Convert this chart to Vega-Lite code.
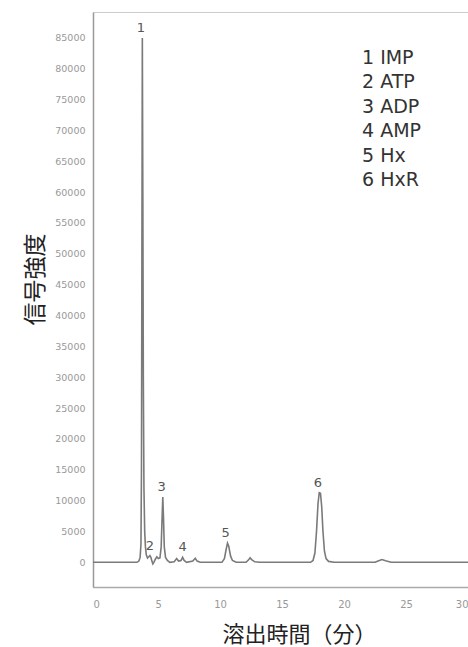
{
  "$schema": "https://vega.github.io/schema/vega-lite/v6.json",
  "autosize": {"type": "none"},
  "width": 375,
  "height": 575,
  "padding": {"left": 93, "top": 12, "right": 0, "bottom": 60},
  "background": "white",
  "config": {
    "view": {"stroke": "#cccccc", "strokeWidth": 1},
    "font": "DejaVu Sans"
  },
  "datasets": {
    "trace": [
      {"time": -0.25, "signal": 0}, {"time": 3.3, "signal": 0}, {"time": 3.45, "signal": 200},
      {"time": 3.55, "signal": 800}, {"time": 3.62, "signal": 3000}, {"time": 3.66, "signal": 15000},
      {"time": 3.7, "signal": 55000}, {"time": 3.73, "signal": 85000}, {"time": 3.77, "signal": 60000},
      {"time": 3.81, "signal": 30000}, {"time": 3.86, "signal": 12000}, {"time": 3.92, "signal": 5000},
      {"time": 3.98, "signal": 2500}, {"time": 4.05, "signal": 1200}, {"time": 4.15, "signal": 700},
      {"time": 4.25, "signal": 900}, {"time": 4.34, "signal": 1100}, {"time": 4.42, "signal": 800},
      {"time": 4.5, "signal": 200}, {"time": 4.58, "signal": -250}, {"time": 4.66, "signal": 0},
      {"time": 4.78, "signal": 500}, {"time": 4.9, "signal": 900}, {"time": 5.02, "signal": 600},
      {"time": 5.15, "signal": 700}, {"time": 5.25, "signal": 2500}, {"time": 5.32, "signal": 7000},
      {"time": 5.38, "signal": 10600}, {"time": 5.44, "signal": 7000}, {"time": 5.5, "signal": 2500},
      {"time": 5.6, "signal": 800}, {"time": 5.75, "signal": 300}, {"time": 5.95, "signal": 0},
      {"time": 6.3, "signal": 100}, {"time": 6.5, "signal": 600}, {"time": 6.65, "signal": 200},
      {"time": 6.85, "signal": 300}, {"time": 6.98, "signal": 800}, {"time": 7.1, "signal": 300},
      {"time": 7.3, "signal": 0}, {"time": 7.8, "signal": 200}, {"time": 8.0, "signal": 650},
      {"time": 8.15, "signal": 200}, {"time": 8.4, "signal": 0}, {"time": 10.15, "signal": 0},
      {"time": 10.35, "signal": 600}, {"time": 10.5, "signal": 2200}, {"time": 10.6, "signal": 3100},
      {"time": 10.7, "signal": 2600}, {"time": 10.85, "signal": 1000}, {"time": 11.0, "signal": 300},
      {"time": 11.3, "signal": 0}, {"time": 12.1, "signal": 0}, {"time": 12.3, "signal": 400},
      {"time": 12.42, "signal": 750}, {"time": 12.55, "signal": 450}, {"time": 12.8, "signal": 80},
      {"time": 13.2, "signal": 0}, {"time": 17.3, "signal": 0}, {"time": 17.5, "signal": 300},
      {"time": 17.65, "signal": 1500}, {"time": 17.78, "signal": 5000}, {"time": 17.9, "signal": 9500},
      {"time": 18.0, "signal": 11300}, {"time": 18.1, "signal": 11200}, {"time": 18.2, "signal": 9000},
      {"time": 18.3, "signal": 5000}, {"time": 18.42, "signal": 1800}, {"time": 18.55, "signal": 600},
      {"time": 18.75, "signal": 150}, {"time": 19.2, "signal": 0}, {"time": 22.5, "signal": 0},
      {"time": 22.8, "signal": 250}, {"time": 23.06, "signal": 450}, {"time": 23.35, "signal": 250},
      {"time": 23.8, "signal": 0}, {"time": 30, "signal": 0}
    ],
    "peaks": [
      {"peak": "1", "name": "1 IMP", "time": 3.62, "signal": 85000},
      {"peak": "2", "name": "2 ATP", "time": 4.34, "signal": 1100},
      {"peak": "3", "name": "3 ADP", "time": 5.28, "signal": 10600},
      {"peak": "4", "name": "4 AMP", "time": 6.98, "signal": 800},
      {"peak": "5", "name": "5 Hx", "time": 10.45, "signal": 3100},
      {"peak": "6", "name": "6 HxR", "time": 17.9, "signal": 11300}
    ]
  },
  "encoding": {
    "x": {
      "field": "time", "type": "quantitative",
      "scale": {"domain": [-0.25, 30], "nice": false, "zero": false},
      "axis": {
        "values": [0, 5, 10, 15, 20, 25, 30],
        "grid": false, "ticks": false, "labelPadding": 12, "labelOverlap": false,
        "labelFontSize": 10, "labelColor": "#999999", "labelFont": "DejaVu Sans",
        "domainColor": "#aaaaaa", "domainWidth": 1.5,
        "title": "溶出時間（分）", "titleFont": "Noto Sans CJK JP", "titleFontSize": 22,
        "titleFontWeight": "normal", "titleColor": "#222222",
        "titleX": 206, "titleY": 47, "titleBaseline": "middle", "titleAlign": "center"
      }
    },
    "y": {
      "field": "signal", "type": "quantitative",
      "scale": {"domain": [-4000, 89200], "nice": false, "zero": false},
      "axis": {
        "values": [0, 5000, 10000, 15000, 20000, 25000, 30000, 35000, 40000, 45000, 50000, 55000, 60000, 65000, 70000, 75000, 80000, 85000],
        "format": "d", "labelOverlap": false,
        "grid": false, "ticks": false, "labelPadding": 8,
        "labelFontSize": 9.5, "labelColor": "#999999", "labelFont": "DejaVu Sans",
        "domainColor": "#999999", "domainWidth": 1.5,
        "title": "信号強度", "titleFont": "Noto Sans CJK JP", "titleFontSize": 23,
        "titleFontWeight": "normal", "titleColor": "#222222",
        "titleX": -58, "titleY": 267, "titleAngle": -90,
        "titleBaseline": "middle", "titleAlign": "center"
      }
    }
  },
  "layer": [
    {
      "data": {"name": "trace"},
      "mark": {"type": "line", "color": "#7a7a7a", "strokeWidth": 1.6, "clip": true}
    },
    {
      "data": {"name": "peaks"},
      "mark": {"type": "text", "baseline": "bottom", "align": "center", "dy": -3, "fontSize": 13, "font": "DejaVu Sans"},
      "encoding": {
        "text": {"field": "peak"},
        "color": {
          "field": "name", "type": "nominal",
          "scale": {
            "domain": ["1 IMP", "2 ATP", "3 ADP", "4 AMP", "5 Hx", "6 HxR"],
            "range": ["#555555", "#555555", "#555555", "#555555", "#555555", "#555555"]
          },
          "legend": {
            "title": null, "orient": "none", "legendX": 250, "legendY": 36,
            "symbolSize": 0, "symbolOpacity": 0, "symbolStrokeWidth": 0, "labelOffset": 0,
            "labelFontSize": 19, "labelFont": "DejaVu Sans", "labelColor": "#333333",
            "rowPadding": 4.5, "labelLimit": 200
          }
        }
      }
    }
  ]
}
